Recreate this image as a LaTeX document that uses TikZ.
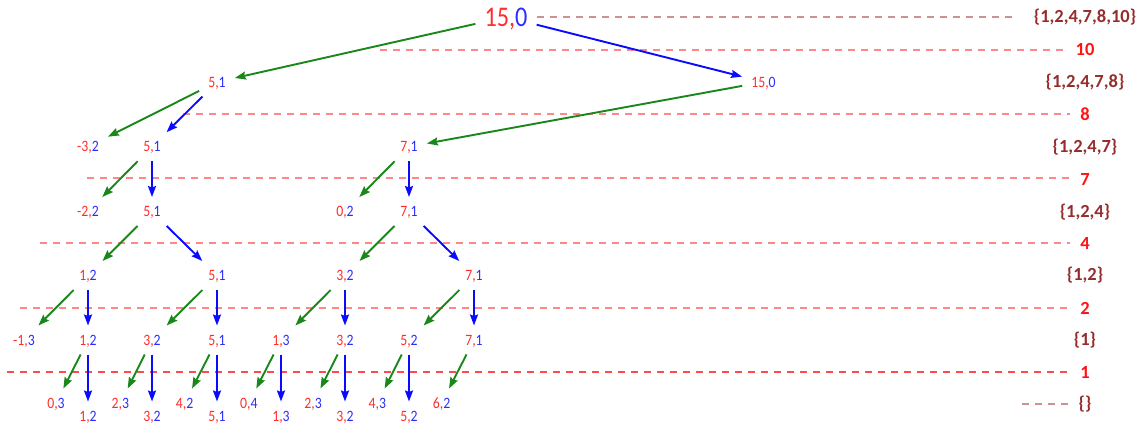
\documentclass[tikz,border=0pt]{standalone}
\usepackage{fontspec}
\setmainfont{Carlito}
\newfontfamily\nodefont[FakeStretch=0.87]{Carlito}
\newfontfamily\bigfont[FakeStretch=0.85]{Carlito}
\usetikzlibrary{arrows.meta}
\definecolor{tred}{RGB}{255,45,45}
\definecolor{tblue}{RGB}{45,45,255}
\definecolor{gcol}{RGB}{25,135,25}
\definecolor{bcol}{RGB}{10,10,255}
\definecolor{lvlred}{RGB}{255,135,135}
\definecolor{lvlredb}{RGB}{255,75,75}
\definecolor{lvlbrown}{RGB}{205,145,145}
\definecolor{setcol}{RGB}{150,45,45}
\definecolor{numcol}{RGB}{255,20,20}
\newcommand{\pr}[2]{\textcolor{tred}{#1,}\textcolor{tblue}{#2}}
\begin{document}
\begin{tikzpicture}[x=1pt,y=-1pt,
  st/.style={inner xsep=9pt,inner ysep=9.3pt,text height=10pt,text depth=0pt,
             font=\nodefont\fontsize{15.8}{16}\selectfont},
  bigst/.style={inner xsep=9pt,inner ysep=5pt,text height=18pt,text depth=0pt,
             font=\bigfont\fontsize{28.5}{30}\selectfont},
  garr/.style={draw=gcol,line width=1.9pt,-{Stealth[length=11pt,width=8pt,inset=1.5pt]}},
  barr/.style={draw=bcol,line width=1.9pt,-{Stealth[length=11pt,width=8pt,inset=1.5pt]}},
  lvl/.style={draw=lvlred,line width=2pt,dash pattern=on 7pt off 6pt},
  lvlb/.style={draw=lvlredb,line width=1.8pt,dash pattern=on 7pt off 6pt},
  lvlt/.style={draw=lvlbrown,line width=2pt,dash pattern=on 7pt off 6pt},
  setlab/.style={inner sep=0pt,text=setcol,font=\bfseries\fontsize{18.5}{20}\selectfont},
  numlab/.style={inner sep=0pt,text=numcol,font=\bfseries\fontsize{18.5}{20}\selectfont}
]
\useasboundingbox (0,0) rectangle (1137,423);

% ---- tree nodes ----
\node[bigst] (n0) at (506,17) {\pr{15}{0}};
\node[st] (a)  at (217,82) {\pr{5}{1}};
\node[st] (b)  at (763.5,82) {\pr{15}{0}};

\node[st] (c1) at (88,146.7) {\pr{-3}{2}};
\node[st] (c2) at (152,146.7) {\pr{5}{1}};
\node[st] (c6) at (409,146.7) {\pr{7}{1}};

\node[st] (d1) at (88,211.5) {\pr{-2}{2}};
\node[st] (d2) at (152,211.5) {\pr{5}{1}};
\node[st] (d5) at (345,211.5) {\pr{0}{2}};
\node[st] (d6) at (409,211.5) {\pr{7}{1}};

\node[st] (e1) at (88,275.5) {\pr{1}{2}};
\node[st] (e3) at (217,275.5) {\pr{5}{1}};
\node[st] (e5) at (345,275.5) {\pr{3}{2}};
\node[st] (e7) at (474,275.5) {\pr{7}{1}};

\node[st] (f0) at (24,340) {\pr{-1}{3}};
\node[st] (f1) at (88,340) {\pr{1}{2}};
\node[st] (f2) at (152,340) {\pr{3}{2}};
\node[st] (f3) at (217,340) {\pr{5}{1}};
\node[st] (f4) at (281,340) {\pr{1}{3}};
\node[st] (f5) at (345,340) {\pr{3}{2}};
\node[st] (f6) at (409,340) {\pr{5}{2}};
\node[st] (f7) at (474,340) {\pr{7}{1}};

\node[st] (g1) at (56,403) {\pr{0}{3}};
\node[st] (g2) at (120.4,403) {\pr{2}{3}};
\node[st] (g3) at (184.6,403) {\pr{4}{2}};
\node[st] (g4) at (248.9,403) {\pr{0}{4}};
\node[st] (g5) at (313.1,403) {\pr{2}{3}};
\node[st] (g6) at (377.4,403) {\pr{4}{3}};
\node[st] (g7) at (441.6,403) {\pr{6}{2}};

\node[st] (h1) at (88,416) {\pr{1}{2}};
\node[st] (h2) at (152,416) {\pr{3}{2}};
\node[st] (h3) at (217,416) {\pr{5}{1}};
\node[st] (h4) at (281,416) {\pr{1}{3}};
\node[st] (h5) at (345,416) {\pr{3}{2}};
\node[st] (h6) at (409,416) {\pr{5}{2}};

% ---- right labels ----
\node[setlab] (s0) at (1085,17) {\{1,2,4,7,8,10\}};
\node[numlab] (m10) at (1085,49.5) {10};
\node[setlab] (s1) at (1085,82) {\{1,2,4,7,8\}};
\node[numlab] (m8) at (1085,114.5) {8};
\node[setlab] (s2) at (1085,147) {\{1,2,4,7\}};
\node[numlab] (m7) at (1085,179) {7};
\node[setlab] (s3) at (1085,212) {\{1,2,4\}};
\node[numlab] (m4) at (1085,243.5) {4};
\node[setlab] (s4) at (1085,275.5) {\{1,2\}};
\node[numlab] (m2) at (1085,308) {2};
\node[setlab] (s5) at (1085,340) {\{1\}};
\node[numlab] (m1) at (1085,372.5) {1};
\node[setlab] (s6) at (1085,404) {\{\}};

% ---- dashed level lines ----
\coordinate (t0s) at (537,17);      \coordinate (t0e) at (1017,17);
\coordinate (l10a) at (380,50);     \coordinate (l10b) at (1065,50);
\coordinate (l8a) at (183,114);     \coordinate (l8b) at (1070,114);
\coordinate (l7a) at (87,178);      \coordinate (l7b) at (1070,178);
\coordinate (l4a) at (40,243);      \coordinate (l4b) at (1070,243);
\coordinate (l2a) at (20,308);      \coordinate (l2b) at (1070,308);
\coordinate (l1a) at (7,372);       \coordinate (l1b) at (1070,372);
\coordinate (l0a) at (1022,404);    \coordinate (l0b) at (1070,404);
\draw[lvlt] (t0s) -- (t0e);
\draw[lvl] (l10a) -- (l10b);
\draw[lvl] (l8a) -- (l8b);
\draw[lvl] (l7a) -- (l7b);
\draw[lvl] (l4a) -- (l4b);
\draw[lvl] (l2a) -- (l2b);
\draw[lvlb] (l1a) -- (l1b);
\draw[lvlt] (l0a) -- (l0b);

% ---- arrows ----
\draw[garr] (n0) -- (a);
\draw[barr] (n0) -- (b);

\draw[garr] (a) -- (c1);
\draw[barr] (a) -- (c2);
\draw[garr] (b) -- (c6);

\draw[garr] (c2) -- (d1);
\draw[barr] (c2) -- (d2);
\draw[garr] (c6) -- (d5);
\draw[barr] (c6) -- (d6);

\draw[garr] (d2) -- (e1);
\draw[barr] (d2) -- (e3);
\draw[garr] (d6) -- (e5);
\draw[barr] (d6) -- (e7);

\draw[garr] (e1) -- (f0);
\draw[barr] (e1) -- (f1);
\draw[garr] (e3) -- (f2);
\draw[barr] (e3) -- (f3);
\draw[garr] (e5) -- (f4);
\draw[barr] (e5) -- (f5);
\draw[garr] (e7) -- (f6);
\draw[barr] (e7) -- (f7);

\draw[garr] (f1) -- (g1);
\draw[barr] (f1) -- (h1);
\draw[garr] (f2) -- (g2);
\draw[barr] (f2) -- (h2);
\draw[garr] (f3) -- (g3);
\draw[barr] (f3) -- (h3);
\draw[garr] (f4) -- (g4);
\draw[barr] (f4) -- (h4);
\draw[garr] (f5) -- (g5);
\draw[barr] (f5) -- (h5);
\draw[garr] (f6) -- (g6);
\draw[barr] (f6) -- (h6);
\draw[garr] (f7) -- (g7);
\end{tikzpicture}
\end{document}
